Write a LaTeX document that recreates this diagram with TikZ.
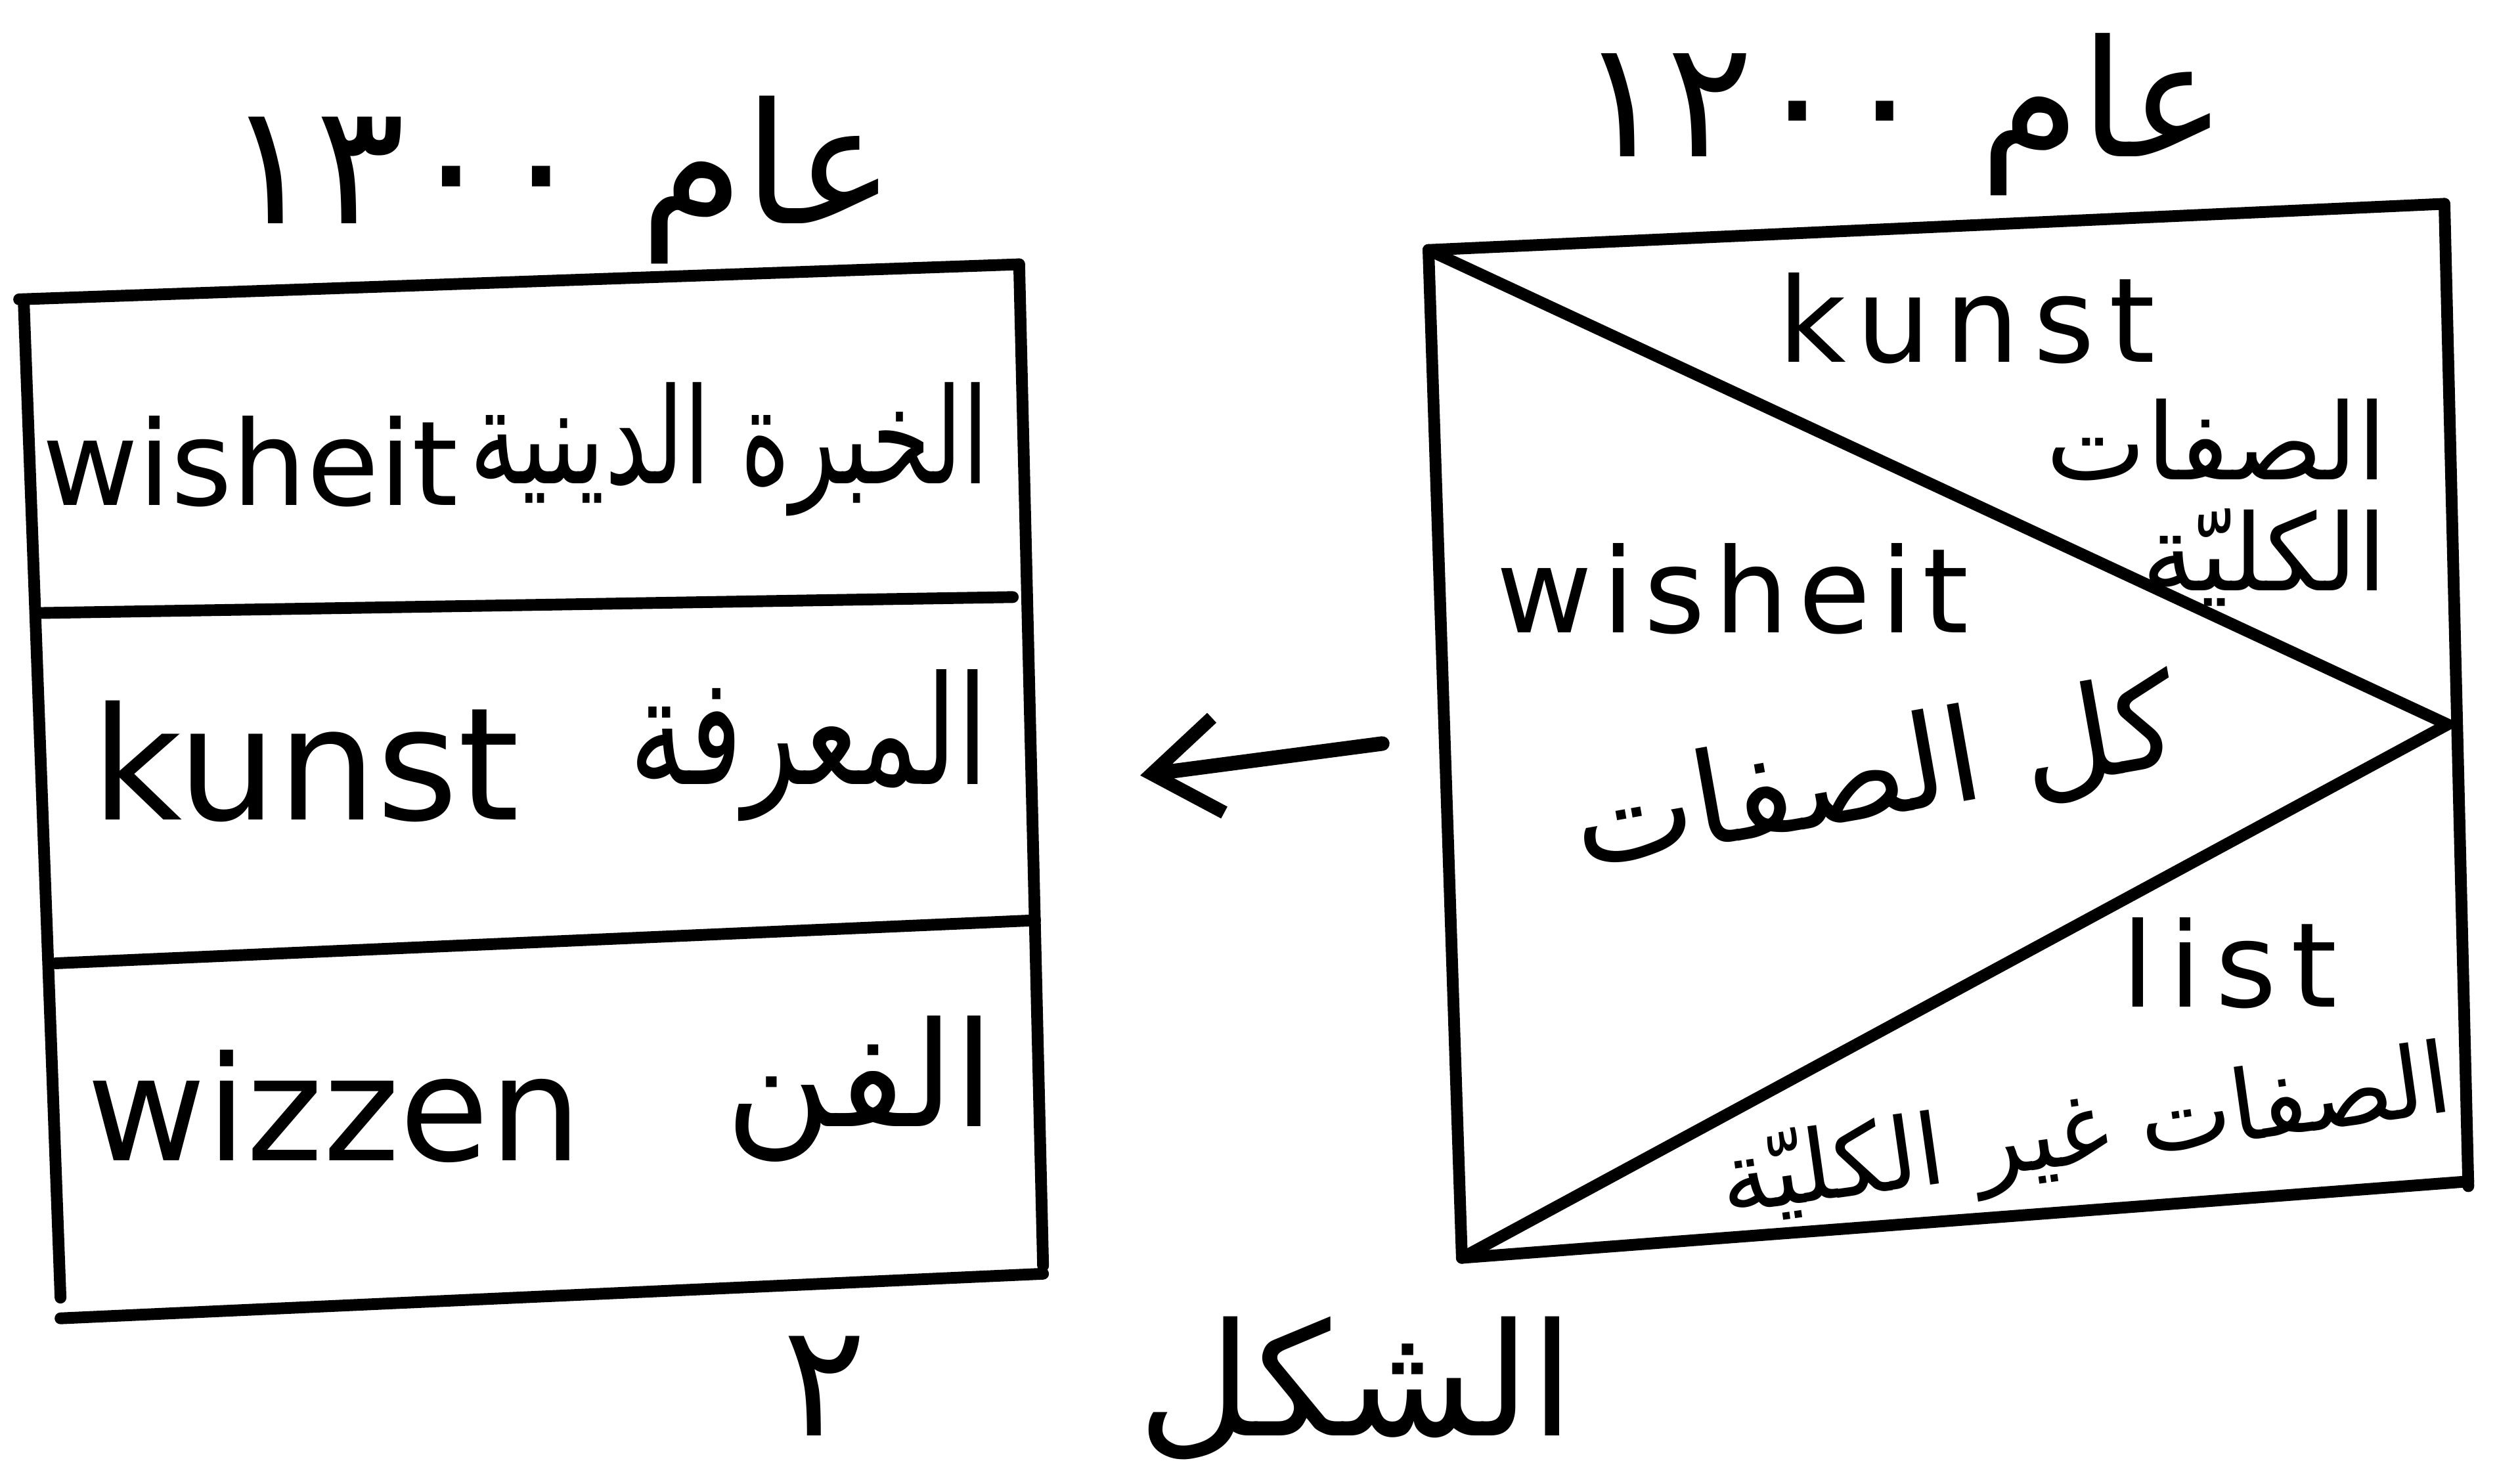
\documentclass[tikz,border=0pt]{standalone}
\usepackage{fontspec}
\usepackage{graphicx}
\setmainfont{DejaVu Sans}
\newfontfamily\arabicfont[Script=Arabic]{DejaVu Sans}
\newfontfamily\latinA[LetterSpace=12]{DejaVu Sans}
\newfontfamily\latinB[LetterSpace=8]{DejaVu Sans}
\TeXXeTstate=1
\usetikzlibrary{arrows.meta}
\tikzset{
  ink/.style={line width=2.1pt, line cap=round, line join=round},
  ar/.style={inner sep=0pt, font=\arabicfont},
  la/.style={inner sep=0pt},
}
\begin{document}
\begin{tikzpicture}[x=0.01cm,y=-0.01cm]
\useasboundingbox (0,0) rectangle (1568,932);
\fill[white] (0,0) rectangle (1568,932);
% left box corners
\coordinate (LTL) at (12,188);
\coordinate (LTR) at (640,166);
\coordinate (LM1L) at (25,385);
\coordinate (LM1R) at (636,375);
\coordinate (LM2L) at (35,605);
\coordinate (LM2R) at (650,578);
\coordinate (LBL) at (38,828);
\coordinate (LBR) at (655,800);
\coordinate (LVL1) at (15,192);
\coordinate (LVL2) at (38,815);
\coordinate (LVR1) at (640,166);
\coordinate (LVR2) at (655,795);
\draw[ink] (LTL) -- (LTR);
\draw[ink] (LM1L) -- (LM1R);
\draw[ink] (LM2L) -- (LM2R);
\draw[ink] (LBL) -- (LBR);
\draw[ink] (LVL1) -- (LVL2);
\draw[ink] (LVR1) -- (LVR2);
% right box corners
\coordinate (RTL) at (897,157);
\coordinate (RTR) at (1535,128);
\coordinate (RBL) at (918,790);
\coordinate (RBR) at (1550,742);
\coordinate (RVR) at (1550,745);
\coordinate (RAP) at (1537,455);
\draw[ink] (RTL) -- (RTR);
\draw[ink] (RTL) -- (RBL);
\draw[ink] (RTR) -- (RVR);
\draw[ink] (RBL) -- (RBR);
\draw[ink] (RTL) -- (RAP) -- (RBL);
% arrow
\coordinate (ArT) at (868,467);
\coordinate (ArH) at (716,487);
\draw[ink, line width=2.6pt, -{Straight Barb[length=0.42cm,width=0.6cm,line width=2.4pt]}] (ArT) -- (ArH);
% headers
\node[ar, font=\arabicfont\fontsize{30}{36}\selectfont] (hdrL) at (352,113) {\beginR عام ١٣٠٠\endR};
\node[ar, font=\arabicfont\fontsize{29}{35}\selectfont] (hdrR) at (1195,72) {\beginR عام ١٢٠٠\endR};
% left box texts
\node[la, font=\fontsize{21}{26}\selectfont] (L1a) at (157,290) {wisheit};
\node[ar, font=\arabicfont\fontsize{17}{22}\selectfont] (L1b) at (458,282) {\scalebox{1}[1.4]{\beginR الخبرة الدينية\endR}};
\node[la, font=\fontsize{28}{34}\selectfont] (L2a) at (192,478) {kunst};
\node[ar, font=\arabicfont\fontsize{20}{26}\selectfont] (L2b) at (508,468) {\scalebox{1}[1.35]{\beginR المعرفة\endR}};
\node[la, font=\fontsize{26}{32}\selectfont] (L3a) at (210,695) {wizzen};
\node[ar, font=\arabicfont\fontsize{26}{32}\selectfont] (L3b) at (540,684) {\beginR الفن\endR};
% right box texts
\node[la, font=\latinA\fontsize{21}{26}\selectfont] (R1a) at (1235,200) {kunst};
\node[ar, font=\arabicfont\fontsize{19}{24}\selectfont] (R1b) at (1392,276) {\beginR الصفات\endR};
\node[ar, font=\arabicfont\fontsize{19}{24}\selectfont] (R1c) at (1422,350) {\beginR الكليّة\endR};
\node[la, font=\latinB\fontsize{21}{26}\selectfont] (R2a) at (1088,370) {wisheit};
\node[ar, font=\arabicfont\fontsize{23}{28}\selectfont, rotate=10] (R2b) at (1178,488) {\beginR كل الصفات\endR};
\node[la, font=\latinA\fontsize{21}{26}\selectfont] (R3a) at (1400,605) {list};
\node[ar, font=\arabicfont\fontsize{17.5}{22}\selectfont, rotate=8] (R3b) at (1310,714) {\beginR الصفات غير الكليّة\endR};
% caption
\node[ar, font=\arabicfont\fontsize{28}{34}\selectfont] (cap) at (740,872) {\beginR الشكل\hspace{1.7cm}٢\endR};
\end{tikzpicture}
\end{document}
